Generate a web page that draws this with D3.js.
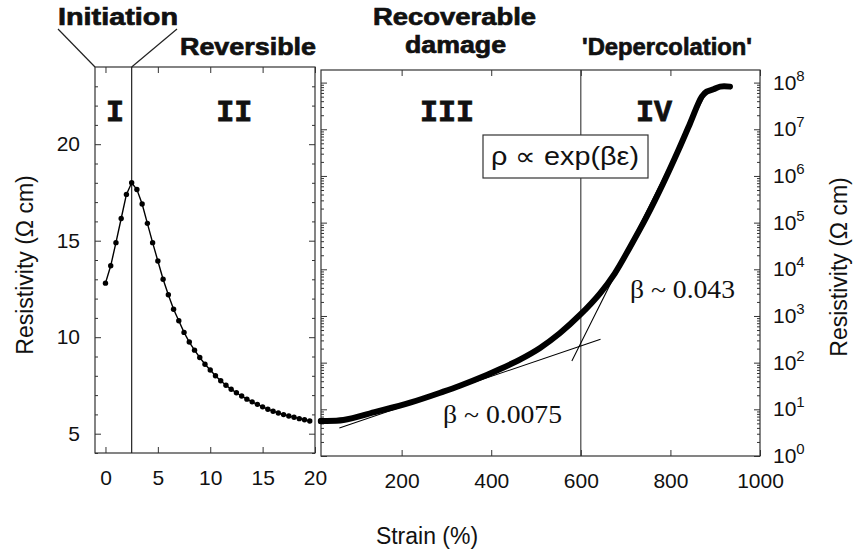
<!DOCTYPE html>
<html>
<head>
<meta charset="utf-8">
<script src="https://cdn.jsdelivr.net/npm/d3@7"></script>
<style>
  body { margin: 0; background: #fff; }
  text { font-family: "Liberation Sans", Arial, sans-serif; fill: #111; }
</style>
</head>
<body>
<div id="chart"></div>
<script>
var width = 854, height = 552;

// left panel: strain 0-20 %, linear resistivity
var leftStrain = [0, 0.5, 1, 1.5, 2, 2.5, 3, 3.5, 4, 4.5, 5, 5.5, 6, 6.5, 7, 7.5, 8, 8.5, 9, 9.5,
  10, 10.5, 11, 11.5, 12, 12.5, 13, 13.5, 14, 14.5, 15, 15.5, 16, 16.5, 17, 17.5, 18, 18.5, 19, 19.5];
var leftRes = [12.8, 13.7, 14.9, 16.15, 17.4, 18.0, 17.65, 16.9, 15.9, 14.9, 13.95, 13.0, 12.2, 11.45, 10.85, 10.25, 9.75, 9.33, 8.95, 8.6,
  8.3, 8.0, 7.74, 7.51, 7.3, 7.12, 6.95, 6.79, 6.65, 6.52, 6.39, 6.27, 6.16, 6.07, 5.99, 5.92, 5.85, 5.78, 5.72, 5.66];
var leftXTicks = [0, 5, 10, 15, 20];
var leftYTicks = [5, 10, 15, 20];
var leftYMinor = [4, 6, 7, 8, 9, 11, 12, 13, 14, 16, 17, 18, 19, 21, 22, 23];

// right panel: strain 20-1000 %, log resistivity
var rightStrain = [20, 25, 70, 144, 219, 293, 330, 390, 420, 465, 509, 553, 598, 643, 676, 710, 747, 784, 818, 844, 870, 881, 896, 911, 933];
var rightRes = [5.6, 5.62, 5.9, 8.9, 13.9, 23.9, 32.0, 54.4, 72.8, 118, 207, 426, 1050, 3060, 8220, 30100, 1.34e5, 7.0e5, 3.6e6, 1.35e7, 5.0e7, 6.4e7, 7.2e7, 8.2e7, 8.2e7];
var rightXTicks = [200, 400, 600, 800, 1000];
var rightYExp = [0, 1, 2, 3, 4, 5, 6, 7, 8];

// exponential fits
var fitLowStrain = [61, 644], fitLowRes = [4.0, 316];
var fitHighStrain = [580, 877], fitHighRes = [109, 5.4e7];

// region boundaries
var boundaryLeft = 2.5, boundaryRight = 600;

var svg = d3.select('#chart').append('svg')
    .attr('width', width)
    .attr('height', height)
    .style('background', '#fff');

var xL = d3.scaleLinear().domain([-1, 20]).range([95, 315]);
var yL = d3.scaleLinear().domain([4, 24]).range([453, 67]);
var xR = d3.scaleLinear().domain([20, 1000]).range([321, 760]);
var yR = d3.scaleLog().domain([1, Math.pow(10, 8.27)]).range([456, 70]);

var frame = '#333';

function styleAxis(g) {
  g.select('.domain').remove();
  g.selectAll('line').attr('stroke', frame).attr('stroke-width', 1);
  g.selectAll('text').style('font-size', '21px').attr('fill', '#111');
}

// ---- left panel axes
svg.append('g').attr('transform', 'translate(0,453)')
    .call(d3.axisBottom(xL).tickValues(leftXTicks).tickSize(-6).tickPadding(17).tickFormat(d3.format('d')))
    .call(styleAxis);
svg.append('g').attr('transform', 'translate(0,67)')
    .call(d3.axisTop(xL).tickValues(leftXTicks).tickSize(-6).tickFormat(''))
    .call(styleAxis);
svg.append('g').attr('transform', 'translate(95,0)')
    .call(d3.axisLeft(yL).tickValues(leftYTicks).tickSize(-6).tickPadding(15))
    .call(styleAxis);
svg.append('g').attr('transform', 'translate(95,0)')
    .call(d3.axisLeft(yL).tickValues(leftYMinor).tickSize(-3).tickFormat(''))
    .call(styleAxis);
svg.append('g').attr('transform', 'translate(315,0)')
    .call(d3.axisRight(yL).tickValues(leftYTicks).tickSize(-6).tickFormat(''))
    .call(styleAxis);
svg.append('g').attr('transform', 'translate(315,0)')
    .call(d3.axisRight(yL).tickValues(leftYMinor).tickSize(-3).tickFormat(''))
    .call(styleAxis);

// ---- right panel axes
var logMajor = rightYExp.map(function(k) { return Math.pow(10, k); });
var logMinor = [];
rightYExp.forEach(function(k) {
  for (var m = 2; m <= 9; m++) {
    var v = m * Math.pow(10, k);
    if (v < yR.domain()[1]) logMinor.push(v);
  }
});

svg.append('g').attr('transform', 'translate(0,456)')
    .call(d3.axisBottom(xR).tickValues(rightXTicks).tickSize(-6).tickPadding(17).tickFormat(d3.format('d')))
    .call(styleAxis);
svg.append('g').attr('transform', 'translate(0,70)')
    .call(d3.axisTop(xR).tickValues(rightXTicks).tickSize(-6).tickFormat(''))
    .call(styleAxis);
[321, 760].forEach(function(px) {
  var mk = px === 321 ? d3.axisLeft : d3.axisRight;
  svg.append('g').attr('transform', 'translate(' + px + ',0)')
      .call(mk(yR).tickValues(logMajor).tickSize(-6).tickFormat(''))
      .call(styleAxis);
  svg.append('g').attr('transform', 'translate(' + px + ',0)')
      .call(mk(yR).tickValues(logMinor).tickSize(-3).tickFormat(''))
      .call(styleAxis);
});

// log tick labels 10^k
var expLabels = svg.append('g').selectAll('text')
    .data(rightYExp)
    .join('text')
    .attr('x', 773)
    .attr('y', function(k) { return yR(Math.pow(10, k)) + 7; })
    .style('font-size', '21px');
expLabels.append('tspan').text('10');
expLabels.append('tspan').attr('dy', -9).style('font-size', '15px').text(function(k) { return k; });

// ---- frames
svg.append('rect').attr('x', 95).attr('y', 67).attr('width', 220).attr('height', 386)
    .attr('fill', 'none').attr('stroke', frame).attr('stroke-width', 1.2);
svg.append('rect').attr('x', 321).attr('y', 70).attr('width', 439).attr('height', 386)
    .attr('fill', 'none').attr('stroke', frame).attr('stroke-width', 1.2);

// boundaries
svg.append('line')
    .attr('x1', xL(boundaryLeft)).attr('x2', xL(boundaryLeft))
    .attr('y1', 67).attr('y2', 453)
    .attr('stroke', '#222').attr('stroke-width', 1.2);
svg.append('line')
    .attr('x1', xR(boundaryRight)).attr('x2', xR(boundaryRight))
    .attr('y1', 70).attr('y2', 456)
    .attr('stroke', '#333').attr('stroke-width', 1.1);

// ---- left data
var leftData = leftStrain.map(function(s, i) { return [s, leftRes[i]]; });
svg.append('path')
    .datum(leftData)
    .attr('fill', 'none')
    .attr('stroke', '#000')
    .attr('stroke-width', 1.4)
    .attr('d', d3.line().x(function(d) { return xL(d[0]); }).y(function(d) { return yL(d[1]); }));
svg.append('g').selectAll('circle')
    .data(leftData)
    .join('circle')
    .attr('cx', function(d) { return xL(d[0]); })
    .attr('cy', function(d) { return yL(d[1]); })
    .attr('r', 2.7)
    .attr('fill', '#000');

// ---- fits
var fitLine = d3.line().x(function(d) { return xR(d[0]); }).y(function(d) { return yR(d[1]); });
svg.append('path')
    .datum(fitLowStrain.map(function(s, i) { return [s, fitLowRes[i]]; }))
    .attr('fill', 'none').attr('stroke', '#000').attr('stroke-width', 1.1)
    .attr('d', fitLine);
svg.append('path')
    .datum(fitHighStrain.map(function(s, i) { return [s, fitHighRes[i]]; }))
    .attr('fill', 'none').attr('stroke', '#000').attr('stroke-width', 1.1)
    .attr('d', fitLine);

// ---- right data
var rightData = rightStrain.map(function(s, i) { return [s, rightRes[i]]; });
svg.append('path')
    .datum(rightData)
    .attr('fill', 'none')
    .attr('stroke', '#000')
    .attr('stroke-width', 6)
    .attr('stroke-linecap', 'round')
    .attr('stroke-linejoin', 'round')
    .attr('d', d3.line().curve(d3.curveCatmullRom.alpha(0.5))
        .x(function(d) { return xR(d[0]); })
        .y(function(d) { return yR(d[1]); }));
svg.append('circle').attr('cx', xR(20)).attr('cy', yR(5.6)).attr('r', 3.2).attr('fill', '#000');

// ---- formula box
svg.append('rect').attr('x', 483).attr('y', 135).attr('width', 165).attr('height', 43)
    .attr('fill', '#fff').attr('stroke', frame).attr('stroke-width', 1.2);
svg.append('text').attr('x', 491).attr('y', 165)
    .attr('textLength', 148).attr('lengthAdjust', 'spacingAndGlyphs')
    .style('font-size', '25px').text('ρ ∝ exp(βε)');

// ---- beta labels
svg.append('text').attr('x', 443).attr('y', 423)
    .attr('textLength', 119).attr('lengthAdjust', 'spacingAndGlyphs')
    .style('font-family', '"Liberation Serif", "Times New Roman", serif').style('font-size', '26px')
    .text('β ~ 0.0075');
svg.append('text').attr('x', 630).attr('y', 298)
    .attr('textLength', 105).attr('lengthAdjust', 'spacingAndGlyphs')
    .style('font-family', '"Liberation Serif", "Times New Roman", serif').style('font-size', '26px')
    .text('β ~ 0.043');

// ---- region numerals
var numerals = [['I', xL(0.9)], ['II', xL(12.3)], ['III', 447], ['IV', 654]];
svg.append('g').selectAll('text')
    .data(numerals)
    .join('text')
    .attr('x', function(d) { return d[1]; })
    .attr('y', 121)
    .attr('text-anchor', 'middle')
    .attr('stroke', '#111')
    .attr('stroke-width', 0.8)
    .style('font-family', '"Liberation Mono", "Courier New", monospace')
    .style('font-weight', 'bold')
    .style('font-size', '30px')
    .text(function(d) { return d[0]; });

// ---- region titles
var titles = [
  ['Initiation', 58, 25, 120],
  ['Reversible', 180, 55, 136],
  ['Recoverable', 373, 25, 163],
  ['damage', 405, 53, 101],
  ["'Depercolation'", 582, 55, 170]
];
svg.append('g').selectAll('text')
    .data(titles)
    .join('text')
    .attr('x', function(d) { return d[1]; })
    .attr('y', function(d) { return d[2]; })
    .attr('textLength', function(d) { return d[3]; })
    .attr('lengthAdjust', 'spacingAndGlyphs')
    .attr('stroke', '#111')
    .attr('stroke-width', 0.7)
    .style('font-weight', 'bold')
    .style('font-size', '24px')
    .text(function(d) { return d[0]; });

// leader lines from "Initiation"
svg.append('line').attr('x1', 58).attr('y1', 29).attr('x2', 95).attr('y2', 67)
    .attr('stroke', '#222').attr('stroke-width', 1.2);
svg.append('line').attr('x1', 177).attr('y1', 29).attr('x2', xL(boundaryLeft)).attr('y2', 67)
    .attr('stroke', '#222').attr('stroke-width', 1.2);

// ---- axis titles
svg.append('text').attr('x', 427).attr('y', 544).attr('text-anchor', 'middle')
    .style('font-size', '23px').text('Strain (%)');
svg.append('text').attr('transform', 'translate(33,265)rotate(-90)').attr('text-anchor', 'middle')
    .style('font-size', '23px').text('Resistivity (Ω cm)');
svg.append('text').attr('transform', 'translate(847,267)rotate(-90)').attr('text-anchor', 'middle')
    .style('font-size', '23px').text('Resistivity (Ω cm)');
</script>
</body>
</html>
